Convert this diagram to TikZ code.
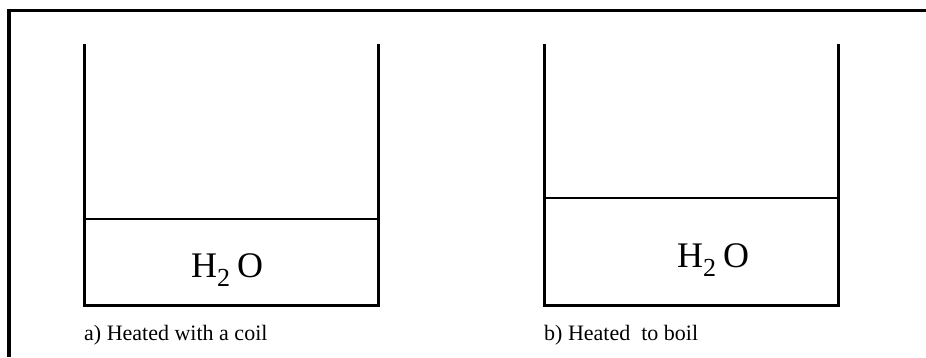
\documentclass[tikz,border=0pt]{standalone}
\usepackage{fontspec}
\setmainfont{Liberation Serif}
\newcommand{\waterformula}{H\raisebox{-9pt}{\fontsize{26}{28}\selectfont 2}\kern7pt O}
\begin{document}
\begin{tikzpicture}[x=1pt,y=-1pt,
  wall/.style={line width=3pt},
  level/.style={line width=2pt},
  formula/.style={font=\fontsize{36}{40}\selectfont, anchor=base west, inner sep=0pt},
  caption/.style={font=\fontsize{22}{26}\selectfont, anchor=base west, inner sep=0pt}]
\useasboundingbox (0,0) rectangle (926,357);
% frame
\draw[line width=3.5pt] (9,357) -- (9,10.5) -- (926,10.5);
\foreach \panel/\level/\hx/\hy/\name [count=\i] in {0/219/107/277/{a) Heated with a coil}, 460/198/133/267/{b) Heated\ \ to boil}}{
\begin{scope}[xshift=\panel pt]
  % beaker and water surface
  \draw[wall] (84.5,44) -- (84.5,305) -- (378,305) -- (378,44);
  \draw[level] (84.5,\level) -- (378,\level);
  \node[formula] (water-\i) at (84+\hx,\hy) {\waterformula};
  \node[caption] (label-\i) at (84,340) {\name};
\end{scope}
}
\end{tikzpicture}
\end{document}
